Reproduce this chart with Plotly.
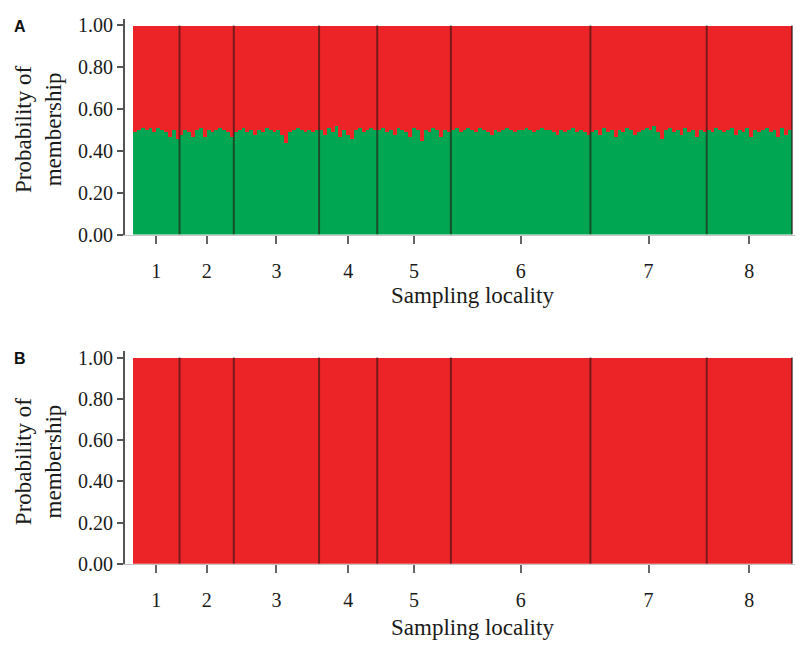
import plotly.graph_objects as go

# ---------------- data ----------------
localities = ["1", "2", "3", "4", "5", "6", "7", "8"]

# Panel A: membership in green cluster per individual (rest = red cluster)
loc1_green = [0.49, 0.50, 0.51, 0.50, 0.51, 0.49, 0.51, 0.50, 0.49, 0.47, 0.50, 0.46]
loc2_green = [0.48, 0.50, 0.49, 0.47, 0.50, 0.51, 0.47, 0.50, 0.49, 0.50, 0.51, 0.50, 0.49, 0.47]
loc3_green = [0.49, 0.50, 0.51, 0.49, 0.50, 0.48, 0.50, 0.49, 0.51, 0.50, 0.49, 0.50, 0.48, 0.44,
              0.49, 0.50, 0.51, 0.50, 0.49, 0.50, 0.49, 0.50]
loc4_green = [0.50, 0.48, 0.51, 0.49, 0.52, 0.47, 0.50, 0.48, 0.46, 0.50, 0.51, 0.49, 0.50, 0.51, 0.50]
loc5_green = [0.50, 0.51, 0.49, 0.50, 0.48, 0.51, 0.50, 0.49, 0.47, 0.51, 0.50, 0.45, 0.50, 0.49,
              0.51, 0.50, 0.47, 0.50, 0.49]
loc6_green = [0.50, 0.51, 0.49, 0.50, 0.51, 0.50, 0.49, 0.51, 0.50, 0.49, 0.48, 0.50, 0.49, 0.50,
              0.51, 0.50, 0.49, 0.50, 0.50, 0.51, 0.50, 0.49, 0.50, 0.51, 0.50, 0.50, 0.49, 0.48,
              0.50, 0.49, 0.50, 0.51, 0.49, 0.50, 0.49, 0.48]
loc7_green = [0.49, 0.50, 0.48, 0.51, 0.49, 0.50, 0.47, 0.50, 0.49, 0.51, 0.50, 0.48, 0.49, 0.50,
              0.51, 0.50, 0.52, 0.49, 0.46, 0.50, 0.51, 0.49, 0.50, 0.48, 0.51, 0.49, 0.50, 0.47,
              0.50, 0.49]
loc8_green = [0.50, 0.49, 0.51, 0.50, 0.49, 0.50, 0.51, 0.48, 0.50, 0.49, 0.51, 0.47, 0.50, 0.49,
              0.50, 0.51, 0.49, 0.50, 0.47, 0.51, 0.48, 0.50]

# Panel B: every individual fully assigned to the red cluster (green = 0)
locB1_green = [0.00, 0.00, 0.00, 0.00, 0.00, 0.00, 0.00, 0.00, 0.00, 0.00, 0.00, 0.00]
locB2_green = [0.00, 0.00, 0.00, 0.00, 0.00, 0.00, 0.00, 0.00, 0.00, 0.00, 0.00, 0.00, 0.00, 0.00]
locB3_green = [0.00, 0.00, 0.00, 0.00, 0.00, 0.00, 0.00, 0.00, 0.00, 0.00, 0.00, 0.00, 0.00, 0.00,
               0.00, 0.00, 0.00, 0.00, 0.00, 0.00, 0.00, 0.00]
locB4_green = [0.00, 0.00, 0.00, 0.00, 0.00, 0.00, 0.00, 0.00, 0.00, 0.00, 0.00, 0.00, 0.00, 0.00, 0.00]
locB5_green = [0.00, 0.00, 0.00, 0.00, 0.00, 0.00, 0.00, 0.00, 0.00, 0.00, 0.00, 0.00, 0.00, 0.00,
               0.00, 0.00, 0.00, 0.00, 0.00]
locB6_green = [0.00, 0.00, 0.00, 0.00, 0.00, 0.00, 0.00, 0.00, 0.00, 0.00, 0.00, 0.00, 0.00, 0.00,
               0.00, 0.00, 0.00, 0.00, 0.00, 0.00, 0.00, 0.00, 0.00, 0.00, 0.00, 0.00, 0.00, 0.00,
               0.00, 0.00, 0.00, 0.00, 0.00, 0.00, 0.00, 0.00]
locB7_green = [0.00, 0.00, 0.00, 0.00, 0.00, 0.00, 0.00, 0.00, 0.00, 0.00, 0.00, 0.00, 0.00, 0.00,
               0.00, 0.00, 0.00, 0.00, 0.00, 0.00, 0.00, 0.00, 0.00, 0.00, 0.00, 0.00, 0.00, 0.00,
               0.00, 0.00]
locB8_green = [0.00, 0.00, 0.00, 0.00, 0.00, 0.00, 0.00, 0.00, 0.00, 0.00, 0.00, 0.00, 0.00, 0.00,
               0.00, 0.00, 0.00, 0.00, 0.00, 0.00, 0.00, 0.00]

y_tick_vals = [0.0, 0.2, 0.4, 0.6, 0.8, 1.0]
y_tick_text = ["0.00", "0.20", "0.40", "0.60", "0.80", "1.00"]

panel_a = [loc1_green, loc2_green, loc3_green, loc4_green,
           loc5_green, loc6_green, loc7_green, loc8_green]
panel_b = [locB1_green, locB2_green, locB3_green, locB4_green,
           locB5_green, locB6_green, locB7_green, locB8_green]

# ---------------- styling ----------------
GREEN = "#00A651"
RED = "#EC2428"
SERIF = "Liberation Serif, Times New Roman, serif"
W, H = 811, 648


def flatten(groups):
    out = []
    for g in groups:
        out.extend(g)
    return out


counts = [len(g) for g in panel_a]
n_total = sum(counts)
bounds = []
s = 0
for c in counts:
    s += c
    bounds.append(s)
centers = []
start = 0
for c in counts:
    centers.append(start + (c - 1) / 2.0)
    start += c

fig = go.Figure()

for k, groups in enumerate([panel_a, panel_b]):
    green = flatten(groups)
    red = [1.0 - g for g in green]
    idx = list(range(len(green)))
    xa = "x" if k == 0 else "x2"
    ya = "y" if k == 0 else "y2"
    fig.add_trace(go.Bar(x=idx, y=green, marker=dict(color=GREEN, line=dict(width=0)),
                         xaxis=xa, yaxis=ya, showlegend=False, hoverinfo="skip"))
    fig.add_trace(go.Bar(x=idx, y=red, marker=dict(color=RED, line=dict(width=0)),
                         xaxis=xa, yaxis=ya, showlegend=False, hoverinfo="skip"))
    for b in bounds:
        fig.add_shape(type="line", xref=xa, yref=ya, x0=b - 0.5, x1=b - 0.5, y0=0, y1=1,
                      line=dict(color="rgba(40,20,20,0.6)", width=2))

# pixel geometry
x_left_px, x_right_px = 125, 795
bar_left_px, bar_right_px = 133, 792
ppu = (bar_right_px - bar_left_px) / n_total
x_range = [-0.5 - (bar_left_px - x_left_px) / ppu, n_total - 0.5 + (x_right_px - bar_right_px) / ppu]

panels = [
    dict(top=15, bottom=236, one=22),
    dict(top=355, bottom=573, one=362),
]

for k, p in enumerate(panels):
    dom_y = [1 - p["bottom"] / H, 1 - p["top"] / H]
    ytop = (p["bottom"] - p["top"]) / (p["bottom"] - p["one"])
    sx = "xaxis" if k == 0 else "xaxis2"
    sy = "yaxis" if k == 0 else "yaxis2"
    anchor_y = "y" if k == 0 else "y2"
    anchor_x = "x" if k == 0 else "x2"
    fig.layout[sx] = dict(
        domain=[x_left_px / W, x_right_px / W], range=x_range, anchor=anchor_y,
        showline=True, linecolor="#c4c4c4", linewidth=1,
        ticks="outside", ticklen=8, tickwidth=2, tickcolor="#666666",
        tickvals=centers, ticktext=localities, ticklabelstandoff=10,
        tickfont=dict(family=SERIF, size=20, color="#1a1a1a"),
        showgrid=False, zeroline=False, fixedrange=True,
    )
    fig.layout[sy] = dict(
        domain=dom_y, range=[0, ytop], anchor=anchor_x,
        showline=True, linecolor="#555555", linewidth=2,
        ticks="outside", ticklen=6, tickwidth=1.5, tickcolor="#555555",
        tickvals=y_tick_vals, ticktext=y_tick_text,
        tickfont=dict(family=SERIF, size=20, color="#1a1a1a"),
        showgrid=False, zeroline=False, fixedrange=True,
    )

annotations = []
for k, (letter, off) in enumerate([("A", 0), ("B", 340)]):
    annotations.append(dict(text="<b>%s</b>" % letter, x=12 / W, y=1 - (23 + off) / H,
                            xref="paper", yref="paper", xanchor="left", yanchor="middle",
                            showarrow=False, font=dict(family="Liberation Sans, Arial", size=16, color="#111")))
    annotations.append(dict(text="Probability of<br>membership", x=38 / W, y=1 - (129 + off) / H,
                            xref="paper", yref="paper", xanchor="center", yanchor="middle",
                            textangle=-90, showarrow=False,
                            font=dict(family=SERIF, size=23, color="#1a1a1a")))
    annotations.append(dict(text="Sampling locality", x=472 / W, y=1 - (298 + off) / H,
                            xref="paper", yref="paper", xanchor="center", yanchor="middle",
                            showarrow=False, font=dict(family=SERIF, size=23, color="#1a1a1a")))

fig.update_layout(
    width=W, height=H, margin=dict(l=0, r=0, t=0, b=0),
    paper_bgcolor="white", plot_bgcolor="white",
    barmode="stack", bargap=0, annotations=annotations,
)

fig.write_html("out.html", config={"displayModeBar": False},
               post_script="document.body.style.margin='0px';")
